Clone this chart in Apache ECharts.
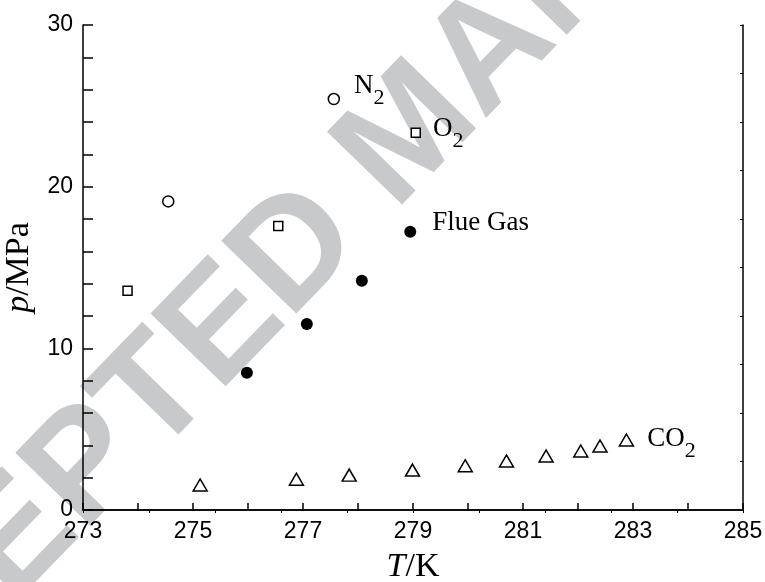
<!DOCTYPE html>
<html>
<head>
<meta charset="utf-8">
<script src="https://cdn.jsdelivr.net/npm/echarts@6/dist/echarts.min.js"></script>
<style>
	html, body { margin: 0; padding: 0; background: #fff; }
	#chart { width: 765px; height: 582px; }
</style>
</head>
<body>
<div id="chart"></div>
<script>
// hydrate formation points, T in K and p in MPa
const n2T = [274.55, 277.56];
const n2P = [19.09, 25.42];
const o2T = [273.81, 276.55, 279.05];
const o2P = [13.56, 17.56, 23.33];
const flueT = [275.98, 277.07, 278.07, 278.95];
const flueP = [8.49, 11.5, 14.18, 17.21];
const co2T = [275.13, 276.88, 277.84, 278.99, 279.95, 280.70, 281.42, 282.05, 282.40, 282.88];
const co2P = [1.55, 1.9, 2.16, 2.47, 2.74, 3.03, 3.34, 3.65, 3.96, 4.33];
const xTicks = [273, 275, 277, 279, 281, 283, 285];
const yTicks = [0, 10, 20, 30];

const serif = '"Liberation Serif", "DejaVu Serif", serif';
const sans = '"Liberation Sans", Arial, sans-serif';

const richSub = {
	b: { fontFamily: serif, fontSize: 27, color: '#000', padding: [0, 0, 10, 0], verticalAlign: 'bottom' },
	s: { fontFamily: serif, fontSize: 22, color: '#000', verticalAlign: 'bottom' },
	n: { fontFamily: serif, fontSize: 27, color: '#000' },
};

function pairs(xs, ys) {
	return xs.map((x, i) => [x, ys[i]]);
}

// put a text label on one point of a series
function withLabel(data, idx, text, offset) {
	data[idx] = {
		value: data[idx],
		label: {
			show: true,
			position: 'right',
			distance: 14,
			offset: offset,
			formatter: text,
			rich: richSub,
		},
	};
	return data;
}

var chartDom = document.getElementById('chart');
var myChart = echarts.init(chartDom);
var option;

option = {
	animation: false,
	backgroundColor: '#fff',
	graphic: [
		{
			type: 'text',
			z: -10,
			silent: true,
			x: 412,
			y: 134,
			rotation: 0.8,
			style: {
				text: 'ACCEPTED MANUSCRIPT',
				fontFamily: sans,
				fontWeight: 'bold',
				fontSize: 152,
				fill: '#c8c9cb',
				align: 'center',
				verticalAlign: 'middle',
			},
		},
	],
	grid: {
		left: 83,
		right: 22,
		top: 25,
		bottom: 72,
		outerBoundsMode: 'none',
		containLabel: false,
	},
	xAxis: [
		{
			type: 'value',
			min: 273,
			max: 285,
			interval: 1,
			name: '{i|T}{n|/K}',
			nameLocation: 'middle',
			nameGap: 40,
			nameTextStyle: {
				rich: {
					i: { fontFamily: serif, fontSize: 34, fontStyle: 'italic', color: '#000' },
					n: { fontFamily: serif, fontSize: 34, color: '#000' },
				},
			},
			axisLine: { lineStyle: { color: '#000', width: 1.5 } },
			axisTick: { inside: true, length: 7, lineStyle: { color: '#000', width: 1.5 } },
			axisLabel: {
				color: '#000',
				fontFamily: sans,
				fontSize: 23,
				margin: 10,
				formatter: (v) => (xTicks.indexOf(v) >= 0 ? String(v) : ''),
			},
			splitLine: { show: false },
		},
		{
			type: 'value',
			position: 'top',
			min: 0,
			max: 10,
			interval: 1,
			axisLine: { lineStyle: { color: '#000', width: 1.5 } },
			axisTick: { inside: true, length: 3, lineStyle: { color: '#000', width: 1 } },
			axisLabel: { show: false },
			splitLine: { show: false },
		},
	],
	yAxis: [
		{
			type: 'value',
			min: 0,
			max: 30,
			interval: 2,
			name: '{i|p}{n|/MPa}',
			nameLocation: 'middle',
			nameGap: 40,
			nameTextStyle: {
				rich: {
					i: { fontFamily: serif, fontSize: 34, fontStyle: 'italic', color: '#000' },
					n: { fontFamily: serif, fontSize: 34, color: '#000' },
				},
			},
			axisLine: { lineStyle: { color: '#000', width: 1.5 } },
			axisTick: { inside: true, length: 10, lineStyle: { color: '#000', width: 1.5 } },
			axisLabel: {
				color: '#000',
				fontFamily: sans,
				fontSize: 23,
				margin: 10,
				formatter: (v) => (yTicks.indexOf(v) >= 0 ? String(v) : ''),
			},
			splitLine: { show: false },
		},
		{
			type: 'value',
			position: 'right',
			min: 0,
			max: 10,
			interval: 1,
			axisLine: { lineStyle: { color: '#000', width: 1.5 } },
			axisTick: { inside: true, length: 3, lineStyle: { color: '#000', width: 1 } },
			axisLabel: { show: false },
			splitLine: { show: false },
		},
	],
	series: [
		{
			name: 'N2',
			type: 'scatter',
			symbol: 'circle',
			symbolSize: 11,
			itemStyle: { color: '#fff', borderColor: '#000', borderWidth: 1.5, opacity: 1 },
			data: withLabel(pairs(n2T, n2P), 1, '{b|N}{s|2}', [0, -8]),
		},
		{
			name: 'O2',
			type: 'scatter',
			symbol: 'rect',
			symbolSize: 9,
			itemStyle: { color: '#fff', borderColor: '#000', borderWidth: 1.5, opacity: 1 },
			data: withLabel(pairs(o2T, o2P), 2, '{b|O}{s|2}', [-2, 1]),
		},
		{
			name: 'Flue Gas',
			type: 'scatter',
			symbol: 'circle',
			symbolSize: 12,
			itemStyle: { color: '#000', opacity: 1 },
			data: withLabel(pairs(flueT, flueP), 3, '{n|Flue Gas}', [2, -9]),
		},
		{
			name: 'CO2',
			type: 'scatter',
			symbol: 'triangle',
			symbolSize: [14, 12],
			itemStyle: { color: '#fff', borderColor: '#000', borderWidth: 1.5, opacity: 1 },
			data: withLabel(pairs(co2T, co2P), 9, '{b|CO}{s|2}', [-1, 4]),
		},
	],
};

option && myChart.setOption(option);
</script>
</body>
</html>
